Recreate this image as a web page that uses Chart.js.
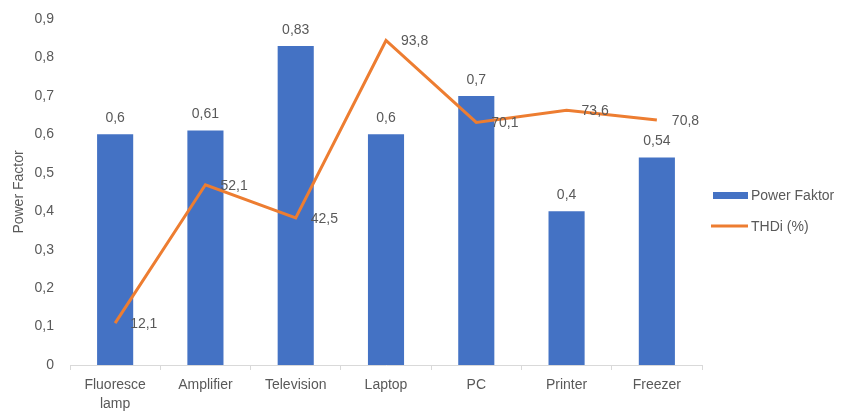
<!DOCTYPE html>
<html>
<head>
<meta charset="utf-8">
<script src="https://cdn.jsdelivr.net/npm/chart.js@4/dist/chart.umd.min.js"></script>
<style>
  html, body { margin: 0; padding: 0; background: #fff; }
  #wrap { width: 842px; height: 412px; }
</style>
</head>
<body>
<div id="wrap"><canvas id="chart" width="842" height="412"></canvas></div>
<script>
const categories = [["Fluoresce", "lamp"], "Amplifier", "Television", "Laptop", "PC", "Printer", "Freezer"];
const powerFactor = [0.6, 0.61, 0.83, 0.6, 0.7, 0.4, 0.54];
const thdi = [12.1, 52.1, 42.5, 93.8, 70.1, 73.6, 70.8];
const yTicks = [0, 0.1, 0.2, 0.3, 0.4, 0.5, 0.6, 0.7, 0.8, 0.9];

const textColor = "#595959";
const fontFamily = "'Liberation Sans', Arial, sans-serif";
const fontSize = 14;

function fmt(v) {
  return String(v).replace(".", ",");
}

// data labels + legend drawn by hand
const labelsPlugin = {
  id: "labelsPlugin",
  afterDatasetsDraw(chart) {
    const ctx = chart.ctx;
    ctx.save();
    ctx.font = fontSize + "px " + fontFamily;
    ctx.fillStyle = textColor;
    ctx.textBaseline = "middle";

    const bars = chart.getDatasetMeta(0).data;
    ctx.textAlign = "center";
    bars.forEach((b, i) => {
      ctx.fillText(fmt(powerFactor[i]), b.x, b.y - 16);
    });

    const pts = chart.getDatasetMeta(1).data;
    ctx.textAlign = "left";
    pts.forEach((p, i) => {
      ctx.fillText(fmt(thdi[i]), p.x + 15, p.y + 1);
    });

    // legend
    const lx = 713;
    ctx.fillStyle = "#4472C4";
    ctx.fillRect(lx, 192, 35, 7);
    ctx.strokeStyle = "#ED7D31";
    ctx.lineWidth = 3;
    ctx.beginPath();
    ctx.moveTo(lx - 2, 226);
    ctx.lineTo(lx + 35, 226);
    ctx.stroke();
    ctx.fillStyle = textColor;
    ctx.fillText(chart.data.datasets[0].label, 751, 196);
    ctx.fillText(chart.data.datasets[1].label, 751, 227);
    ctx.restore();
  }
};

new Chart(document.getElementById("chart"), {
  data: {
    labels: categories,
    datasets: [
      {
        type: "bar",
        label: "Power Faktor",
        data: powerFactor,
        backgroundColor: "#4472C4",
        barPercentage: 0.4,
        categoryPercentage: 1,
        yAxisID: "y",
        order: 1
      },
      {
        type: "line",
        label: "THDi (%)",
        data: thdi,
        borderColor: "#ED7D31",
        backgroundColor: "#ED7D31",
        borderWidth: 3,
        pointRadius: 0,
        tension: 0,
        yAxisID: "y2",
        order: 0
      }
    ]
  },
  options: {
    responsive: false,
    animation: false,
    layout: { padding: { top: 19, right: 140, bottom: 0, left: 0 } },
    plugins: {
      legend: { display: false },
      tooltip: { enabled: false }
    },
    scales: {
      x: {
        grid: { display: true, offset: true, drawOnChartArea: false, tickLength: 5, color: "#d9d9d9" },
        border: { color: "#d9d9d9" },
        ticks: {
          color: textColor,
          font: { family: fontFamily, size: fontSize, lineHeight: 1.35 },
          padding: 6,
          maxRotation: 0,
          autoSkip: false
        },
        afterFit(scale) { scale.height = 47; }
      },
      y: {
        position: "left",
        min: 0,
        max: 0.9,
        afterBuildTicks(scale) { scale.ticks = yTicks.map(v => ({ value: v })); },
        grid: { display: false, drawTicks: false },
        border: { display: false },
        ticks: {
          color: textColor,
          font: { family: fontFamily, size: fontSize },
          padding: 16,
          callback: v => (v === 0 ? "0" : v.toFixed(1).replace(".", ","))
        },
        title: {
          display: true,
          text: "Power Factor",
          color: textColor,
          font: { family: fontFamily, size: fontSize },
          padding: { top: 11, bottom: 0 }
        },
        afterFit(scale) {
          scale.width = 70;
          scale.paddingTop = 0;
          scale.paddingBottom = 0;
        }
      },
      y2: {
        position: "right",
        display: false,
        min: 0,
        max: 100
      }
    }
  },
  plugins: [labelsPlugin]
});
</script>
</body>
</html>
